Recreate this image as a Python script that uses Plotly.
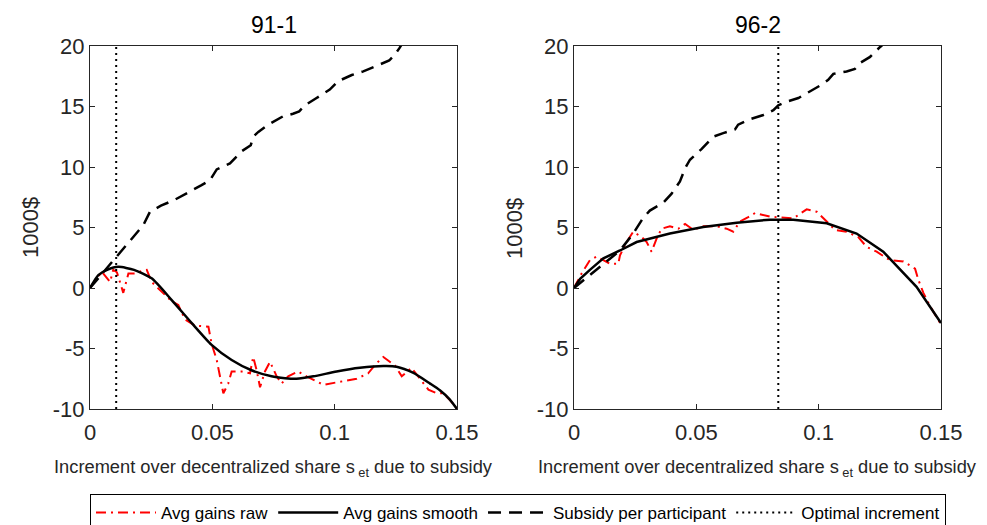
import plotly.graph_objects as go

# ---------------- data ----------------
# Panel 91-1
x_raw_911 = [0, 0.0048, 0.0082, 0.0095, 0.0110, 0.0136, 0.0157, 0.0184, 0.0204, 0.0232, 0.0252, 0.0300,
             0.0334, 0.0361, 0.0388, 0.0429, 0.0484, 0.0497, 0.0518, 0.0545, 0.0565, 0.0579, 0.0620,
             0.0654, 0.0667, 0.0681, 0.0695, 0.0715, 0.0736, 0.0763, 0.0783, 0.0810, 0.0851, 0.0885,
             0.0954, 0.1008, 0.1090, 0.1137, 0.1172, 0.1199, 0.1246, 0.1274, 0.1314, 0.1383, 0.1417,
             0.1444, 0.1471, 0.15]
y_raw_911 = [0, 1.35, 0.5, 1.5, 1.3, -0.4, 1.2, 1.2, 1.35, 1.5, 0.5, -0.4,
             -1.1, -1.4, -2.6, -3.1, -3.2, -4.6, -5.95, -8.7, -7.9, -6.9, -6.9,
             -7.05, -5.7, -6.8, -8.2, -6.9, -6.1, -7.3, -7.9, -7.3, -6.9, -7.3,
             -8.0, -7.8, -7.5, -7.05, -6.2, -5.7, -6.4, -7.3, -6.6, -8.4, -8.7,
             -8.7, -9.25, -10]

x_smooth_911 = [0, 0.0034, 0.0070, 0.0116, 0.0180, 0.0252, 0.0334, 0.0416, 0.0497, 0.0579, 0.0660,
                0.0742, 0.0797, 0.0844, 0.0913, 0.1008, 0.1103, 0.1199, 0.1253, 0.1320, 0.1390,
                0.1430, 0.1470, 0.15]
y_smooth_911 = [0, 1.07, 1.5, 1.75, 1.5, 0.8, -1.0, -2.9, -4.7, -5.95, -6.8,
                -7.3, -7.45, -7.5, -7.3, -6.9, -6.6, -6.45, -6.5, -7.0, -7.9,
                -8.45, -9.2, -10]

x_sub_911 = [0, 0.0114, 0.0218, 0.0245, 0.0290, 0.0347, 0.0395, 0.0456, 0.0490, 0.0518, 0.0572,
             0.0620, 0.0657, 0.0667, 0.0688, 0.0729, 0.0790, 0.0830, 0.0855, 0.0879, 0.0926,
             0.0980, 0.1015, 0.1070, 0.1117, 0.1178, 0.1223, 0.1246, 0.1264, 0.1300]
y_sub_911 = [0, 2.7, 5.2, 6.3, 6.8, 7.3, 7.8, 8.5, 8.9, 9.8, 10.3,
             11.3, 11.8, 12.5, 12.9, 13.5, 14.2, 14.4, 14.6, 15.1, 15.7,
             16.4, 17.1, 17.6, 17.9, 18.4, 18.8, 19.3, 19.8, 21.0]

opt_911 = 0.0107

# Panel 96-2
x_raw_962 = [0, 0.0031, 0.0065, 0.0093, 0.0120, 0.0147, 0.0181, 0.0188, 0.0215, 0.0242, 0.0277,
             0.0297, 0.0317, 0.0338, 0.0358, 0.0392, 0.0426, 0.0454, 0.0488, 0.0528, 0.0583,
             0.0624, 0.0651, 0.0678, 0.0712, 0.0740, 0.0801, 0.0842, 0.0896, 0.0951, 0.0992,
             0.1033, 0.1067, 0.1114, 0.1162, 0.1196, 0.1237, 0.1291, 0.1346, 0.1394, 0.1407,
             0.1428, 0.1455, 0.15]
y_raw_962 = [0, 1.2, 2.3, 2.6, 2.3, 2.0, 2.0, 2.7, 3.8, 4.65, 4.2,
             3.8, 3.0, 4.1, 4.9, 5.1, 4.9, 5.3, 4.8, 5.1, 5.1,
             4.9, 4.65, 5.5, 5.85, 6.2, 5.9, 5.85, 5.75, 6.5, 6.3,
             5.5, 4.8, 4.65, 4.2, 3.4, 3.0, 2.3, 2.2, 1.6, 0.7,
             -0.4, -1.5, -3.0]

x_smooth_962 = [0, 0.0025, 0.0065, 0.0120, 0.0188, 0.0256, 0.0392, 0.0528, 0.0665, 0.0801, 0.0896,
                0.1033, 0.1155, 0.1264, 0.1400, 0.15]
y_smooth_962 = [0, 0.75, 1.5, 2.45, 3.1, 3.8, 4.5, 5.05, 5.4, 5.65, 5.65,
                5.35, 4.5, 3.0, 0.1, -2.9]

x_sub_962 = [0, 0.0188, 0.0242, 0.0283, 0.0310, 0.0365, 0.0399, 0.0433, 0.0454, 0.0474, 0.0522,
             0.0569, 0.0610, 0.0658, 0.0671, 0.0712, 0.0774, 0.0815, 0.0835, 0.0869, 0.0917,
             0.0971, 0.1012, 0.1039, 0.1060, 0.1114, 0.1148, 0.1169, 0.1210, 0.1250, 0.1290]
y_sub_962 = [0, 3.1, 4.5, 5.8, 6.4, 7.05, 7.8, 8.8, 9.9, 10.6, 11.5,
             12.5, 12.8, 13.1, 13.5, 13.9, 14.3, 14.7, 15.1, 15.4, 15.7,
             16.3, 16.8, 17.2, 17.7, 17.9, 18.1, 18.6, 19.1, 19.9, 20.6]

opt_962 = 0.0835

panel_titles = ["91-1", "96-2"]
x_tickvals = [0, 0.05, 0.1, 0.15]
x_ticktext = ["0", "0.05", "0.1", "0.15"]
y_tickvals = [-10, -5, 0, 5, 10, 15, 20]
y_ticktext = ["-10", "-5", "0", "5", "10", "15", "20"]

# ---------------- figure ----------------
FONT = "Liberation Sans, Arial, sans-serif"
TXT = "#262626"
OFF = 8                      # default page body margin
W, H = 987 - OFF, 525 - OFF  # figure size so it fits in the window

fig = go.Figure()

panels = [
    (x_raw_911, y_raw_911, x_smooth_911, y_smooth_911, x_sub_911, y_sub_911, opt_911, "x", "y", True, "spline"),
    (x_raw_962, y_raw_962, x_smooth_962, y_smooth_962, x_sub_962, y_sub_962, opt_962, "x2", "y2", False, "linear"),
]
for xr, yr, xs, ys, xb, yb, opt, xa, ya, show, shp in panels:
    fig.add_trace(go.Scatter(x=xr, y=yr, mode="lines", name="Avg gains raw",
                             line=dict(color="#ff0000", width=2, dash="10px,5px,2px,5px"),
                             xaxis=xa, yaxis=ya, showlegend=show))
    fig.add_trace(go.Scatter(x=xs, y=ys, mode="lines", name="Avg gains smooth",
                             line=dict(color="#000000", width=2.5, shape=shp, smoothing=0.6),
                             xaxis=xa, yaxis=ya, showlegend=show))
    fig.add_trace(go.Scatter(x=xb, y=yb, mode="lines", name="Subsidy per participant",
                             line=dict(color="#000000", width=2.5, dash="13px,8px"),
                             xaxis=xa, yaxis=ya, showlegend=show))
    fig.add_trace(go.Scatter(x=[opt, opt], y=[-10, 20], mode="lines", name="Optimal increment",
                             line=dict(color="#000000", width=2, dash="2px,4px"),
                             xaxis=xa, yaxis=ya, showlegend=show))

def px(v):
    return (v - OFF) / W

def py(v):
    return (H - (v - OFF)) / H

axis_common = dict(showline=True, linecolor=TXT, linewidth=1, mirror="ticks", ticks="inside",
                   ticklen=5, tickcolor=TXT, showgrid=False, zeroline=False, automargin=False,
                   tickfont=dict(family=FONT, size=22, color=TXT))

doms = [(px(90), px(457)), (px(574), px(941))]
ydom = (py(409), py(46))

fig.update_layout(
    template="none",
    width=W, height=H,
    margin=dict(l=0, r=0, t=0, b=0, pad=0, autoexpand=False),
    paper_bgcolor="white", plot_bgcolor="white",
    font=dict(family=FONT, color=TXT),
    xaxis=dict(domain=doms[0], range=[0, 0.15], tickvals=x_tickvals, ticktext=x_ticktext,
               anchor="y", ticklabelstandoff=4, **axis_common),
    yaxis=dict(domain=ydom, range=[-10, 20], tickvals=y_tickvals, ticktext=y_ticktext,
               anchor="x", **axis_common),
    xaxis2=dict(domain=doms[1], range=[0, 0.15], tickvals=x_tickvals, ticktext=x_ticktext,
                anchor="y2", ticklabelstandoff=4, **axis_common),
    yaxis2=dict(domain=ydom, range=[-10, 20], tickvals=y_tickvals, ticktext=y_ticktext,
                anchor="x2", **axis_common),
    legend=dict(orientation="h", x=px(90), xanchor="left", y=py(494), yanchor="top",
                bordercolor="#000000", borderwidth=1, bgcolor="white",
                font=dict(family=FONT, size=17, color="#000000"),
                itemwidth=60, traceorder="normal"),
    showlegend=True,
)

annots = []
for i, (d0, d1) in enumerate(doms):
    cx = (d0 + d1) / 2
    annots.append(dict(text=panel_titles[i], x=cx, y=py(25), xref="paper", yref="paper",
                       showarrow=False, xanchor="center", yanchor="middle",
                       font=dict(family=FONT, size=23, color="#000000")))
    annots.append(dict(text="Increment over decentralized share s<sub> et</sub> due to subsidy",
                       x=cx, y=py(468), xref="paper", yref="paper", showarrow=False,
                       xanchor="center", yanchor="middle",
                       font=dict(family=FONT, size=18.3, color=TXT)))
    annots.append(dict(text="1000$", x=px(31 + i * 484), y=py(228), xref="paper", yref="paper",
                       showarrow=False, xanchor="center", yanchor="middle", textangle=-90,
                       font=dict(family=FONT, size=22, color=TXT)))
fig.update_layout(annotations=annots)

fig.write_html("out.html")
